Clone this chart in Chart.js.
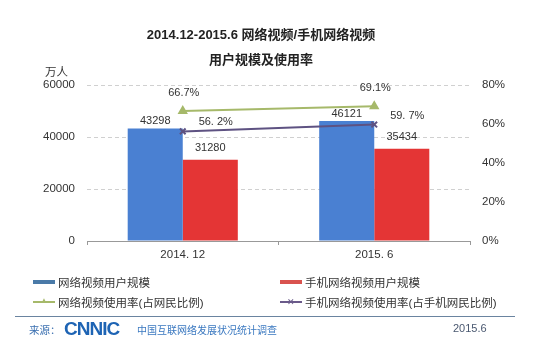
<!DOCTYPE html>
<html>
<head>
<meta charset="utf-8">
<script src="https://cdn.jsdelivr.net/npm/chart.js@4"></script>
<style>
    body { margin: 0; background: #fff; }
    #wrap { position: relative; width: 551px; height: 359px; overflow: hidden;
        font-family: "Liberation Sans", "Noto Sans CJK SC", sans-serif; color: #333; }
    #chart { position: absolute; left: 0; top: 0; }
    .t { position: absolute; white-space: nowrap; }
    .title { left: 0; width: 522px; text-align: center; font-weight: bold; font-size: 13px; color: #222; }
    .leg { font-size: 11.5px; color: #333; }
    .sw { position: absolute; height: 4px; width: 22px; }
    .ln { position: absolute; height: 2px; width: 22px; }
    .mk { position: absolute; width: 22px; text-align: center; line-height: 10px; }
</style>
</head>
<body>
<div id="wrap">
    <canvas id="chart" width="551" height="359"></canvas>
    <div class="t title" style="top:24px;">2014.12-2015.6 网络视频/手机网络视频</div>
    <div class="t title" style="top:49px;">用户规模及使用率</div>
    <div class="t" style="left:45px; top:63px; font-size:11.5px;">万人</div>

    <div class="sw" style="left:33px; top:280px; background:#4a7aa8;"></div>
    <div class="t leg" style="left:58px; top:274px;">网络视频用户规模</div>
    <div class="sw" style="left:280px; top:280px; background:#d9534f;"></div>
    <div class="t leg" style="left:305px; top:274px;">手机网络视频用户规模</div>

    <div class="ln" style="left:33px; top:301px; background:#a6b96a;"></div>
    <div class="t mk" style="left:33px; top:296px; font-size:8px; color:#a6b96a;">▲</div>
    <div class="t leg" style="left:58px; top:294px;">网络视频使用率(占网民比例)</div>
    <div class="ln" style="left:280px; top:301px; background:#6a5a8a;"></div>
    <div class="t mk" style="left:280px; top:297px; font-size:9px; color:#6a5a8a;">✕</div>
    <div class="t leg" style="left:305px; top:294px;">手机网络视频使用率(占手机网民比例)</div>

    <div style="position:absolute; left:15px; top:316px; width:500px; height:1px; background:#6a84a0;"></div>
    <div class="t" style="left:29px; top:322px; font-size:10.5px; color:#3a6fb0;">来源：</div>
    <div class="t" style="left:64px; top:318px; font-size:19px; font-weight:bold; letter-spacing:-1px; color:#1e64b4; font-family:'Liberation Sans';">CNNIC</div>
    <div class="t" style="left:137px; top:322px; font-size:10px; color:#3a78c0;">中国互联网络发展状况统计调查</div>
    <div class="t" style="left:453px; top:322px; font-size:11px; color:#4a5870;">2015.6</div>
</div>
<script>
const categories = ['2014. 12', '2015. 6'];
const videoUsers = [43298, 46121];
const mobileUsers = [31280, 35434];
const videoRate = [66.7, 69.1];
const mobileRate = [56.2, 59.7];
const leftTicks = [0, 20000, 40000, 60000];
const rightTicks = [0, 20, 40, 60, 80];

const FONT = '"Liberation Sans", "Noto Sans CJK SC", sans-serif';

// value labels drawn above bars / next to points
const labelPlugin = {
    id: 'valueLabels',
    afterDatasetsDraw(chart) {
        const ctx = chart.ctx;
        ctx.save();
        ctx.font = '11px ' + FONT;
        ctx.fillStyle = '#333';
        ctx.textAlign = 'center';
        ctx.textBaseline = 'middle';
        chart.data.datasets.forEach((ds, i) => {
            const meta = chart.getDatasetMeta(i);
            meta.data.forEach((el, j) => {
                const off = ds.labelOffset;
                ctx.fillText(ds.labelFormat(ds.data[j]), el.x + off[0], el.y + off[1]);
            });
        });
        ctx.restore();
    }
};

function firstChart() {
    var ctx = document.getElementById('chart').getContext('2d');
    var mainChart = new Chart(ctx, {
        data: {
            labels: categories,
            datasets: [{
                type: 'line',
                label: '网络视频使用率(占网民比例)',
                data: videoRate,
                yAxisID: 'y1',
                borderColor: '#a6b96a',
                backgroundColor: '#a6b96a',
                borderWidth: 2,
                pointStyle: 'triangle',
                pointRadius: 4,
                order: 0,
                labelOffset: [1, -18],
                labelFormat: v => v.toFixed(1) + '%'
            }, {
                type: 'line',
                label: '手机网络视频使用率(占手机网民比例)',
                data: mobileRate,
                yAxisID: 'y1',
                borderColor: '#5e5282',
                backgroundColor: '#5e5282',
                borderWidth: 2,
                pointStyle: 'crossRot',
                pointRadius: 4,
                order: 0,
                labelOffset: [33, -9],
                labelFormat: v => v.toFixed(1).replace('.', '. ') + '%'
            }, {
                type: 'bar',
                label: '网络视频用户规模',
                data: videoUsers,
                yAxisID: 'y',
                backgroundColor: '#4a80d2',
                categoryPercentage: 0.575,
                barPercentage: 1,
                order: 1,
                labelOffset: [0, -7],
                labelFormat: v => String(v)
            }, {
                type: 'bar',
                label: '手机网络视频用户规模',
                data: mobileUsers,
                yAxisID: 'y',
                backgroundColor: '#e43535',
                categoryPercentage: 0.575,
                barPercentage: 1,
                order: 1,
                labelOffset: [0, -12],
                labelFormat: v => String(v)
            }]
        },
        plugins: [labelPlugin],
        options: {
            responsive: false,
            animation: false,
            layout: { padding: { top: 85, left: 0, right: 0, bottom: 0 } },
            plugins: {
                legend: { display: false },
                tooltip: { enabled: false }
            },
            scales: {
                x: {
                    offset: true,
                    afterFit: s => { s.height = 118; },
                    grid: { display: true, drawOnChartArea: false, drawTicks: true, tickLength: 4, color: '#999', offset: true },
                    border: { display: true, color: '#999' },
                    ticks: { color: '#333', font: { size: 11.5, family: FONT }, padding: 3 }
                },
                y: {
                    position: 'left',
                    min: 0,
                    max: 60000,
                    afterFit: s => { s.width = 87; },
                    afterBuildTicks: s => { s.ticks = leftTicks.map(v => ({ value: v })); },
                    grid: { color: '#d0d0d0', drawTicks: false },
                    border: { display: false, dash: [4, 3] },
                    ticks: { color: '#333', font: { size: 11.5, family: FONT }, padding: 12, callback: v => String(v) }
                },
                y1: {
                    position: 'right',
                    min: 0,
                    max: 80,
                    afterFit: s => { s.width = 81; },
                    afterBuildTicks: s => { s.ticks = rightTicks.map(v => ({ value: v })); },
                    grid: { display: false, drawTicks: false },
                    border: { display: false },
                    ticks: { color: '#333', font: { size: 11.5, family: FONT }, padding: 12, callback: v => v + '%' }
                }
            }
        }
    });
}

window.onload = function() {
    firstChart();
};
</script>
</body>
</html>
